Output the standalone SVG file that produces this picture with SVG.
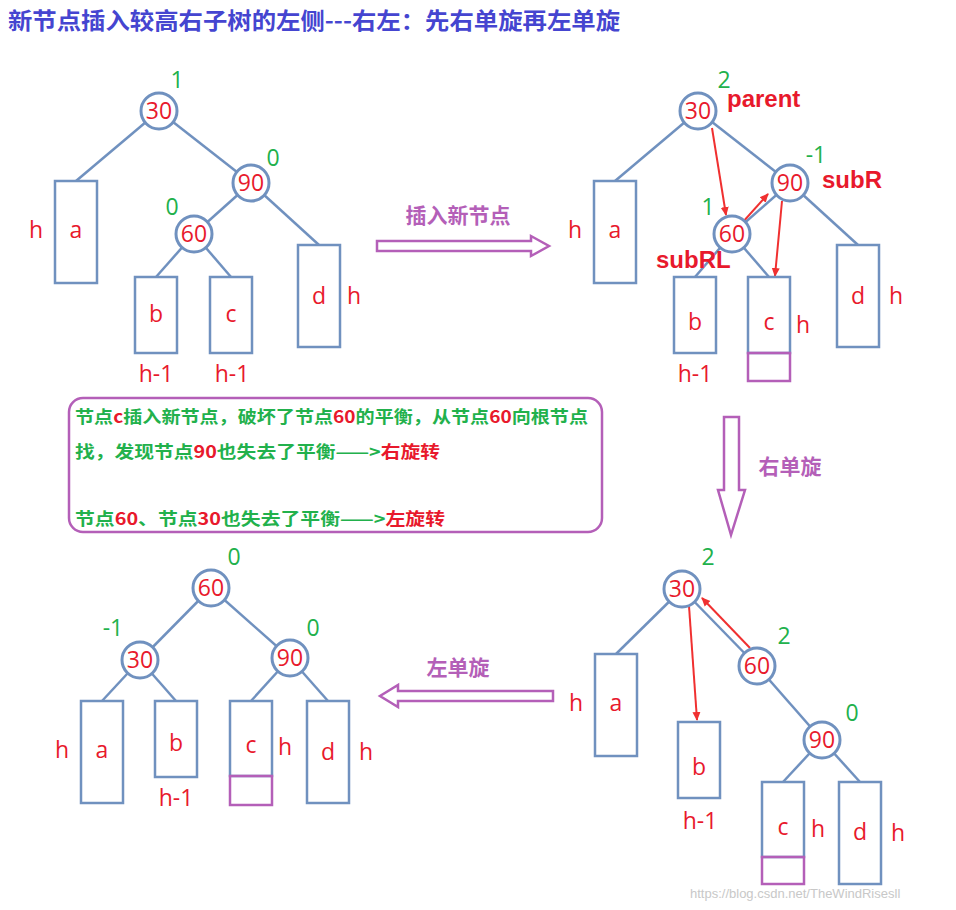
<svg xmlns="http://www.w3.org/2000/svg" width="956" height="910" viewBox="0 0 956 910">
<defs>
<style>
.n{fill:#fff;stroke:#7091bf;stroke-width:3}
.b{fill:none;stroke:#7091bf;stroke-width:2.5}
.p{fill:none;stroke:#b45fb8;stroke-width:2.5}
.e{stroke:#7091bf;stroke-width:2.5}
.t{font-family:"Open Sans","Noto Sans",sans-serif;fill:#e8192c;font-size:23px;text-anchor:middle}
.g{font-family:"Open Sans","Noto Sans",sans-serif;fill:#22b14c;font-size:23px;text-anchor:middle}
.lb{font-family:"Liberation Sans",sans-serif;font-weight:bold;fill:#e8192c;font-size:24px}
.cn{font-family:"Noto Sans CJK SC",sans-serif;font-weight:bold}
.ra{stroke:#f03030;stroke-width:2;fill:none;marker-end:url(#ah)}
</style>
<marker id="ah" markerWidth="10" markerHeight="10" refX="8" refY="5" orient="auto" markerUnits="userSpaceOnUse"><path d="M0,1 L9,5 L0,9 z" fill="#f03030"/></marker>
</defs>
<rect width="956" height="910" fill="#fff"/>
<text x="8" y="29" class="cn" font-size="23" fill="#4545d0" textLength="612" lengthAdjust="spacingAndGlyphs">新节点插入较高右子树的左侧---右左：先右单旋再左单旋</text>

<g id="connectors">
<line class="e" x1="159" y1="111" x2="76" y2="181"/><line class="e" x1="159" y1="111" x2="251" y2="183"/>
<line class="e" x1="251" y1="183" x2="194" y2="234"/><line class="e" x1="251" y1="183" x2="319" y2="245"/>
<line class="e" x1="194" y1="234" x2="156" y2="277"/><line class="e" x1="194" y1="234" x2="231" y2="277"/>
<line class="e" x1="698" y1="111" x2="615" y2="181"/><line class="e" x1="698" y1="111" x2="790" y2="183"/>
<line class="e" x1="790" y1="183" x2="732" y2="234"/><line class="e" x1="790" y1="183" x2="858" y2="245"/>
<line class="e" x1="732" y1="234" x2="695" y2="277"/><line class="e" x1="732" y1="234" x2="769" y2="277"/>
<line class="e" x1="682" y1="589" x2="616" y2="654"/><line class="e" x1="682" y1="589" x2="757" y2="666"/>
<line class="e" x1="757" y1="666" x2="822" y2="740"/>
<line class="e" x1="822" y1="740" x2="783" y2="782"/><line class="e" x1="822" y1="740" x2="860" y2="782"/>
<line class="e" x1="211" y1="588" x2="140" y2="660"/><line class="e" x1="211" y1="588" x2="290" y2="658"/>
<line class="e" x1="140" y1="660" x2="102" y2="701"/><line class="e" x1="140" y1="660" x2="176" y2="701"/>
<line class="e" x1="290" y1="658" x2="251" y2="701"/><line class="e" x1="290" y1="658" x2="328" y2="701"/>
<line class="ra" x1="712" y1="128" x2="726" y2="215"/>
<line class="ra" x1="742" y1="223" x2="768" y2="194"/>
<line class="ra" x1="782" y1="201" x2="775" y2="276"/>
<line class="ra" x1="689" y1="606" x2="697" y2="720"/>
<line class="ra" x1="750" y1="648" x2="702" y2="598"/>
<path d="M377,241 H531 V236 L549,246 L531,256 V251 H377 Z" fill="#fff" stroke="#b45fb8" stroke-width="2.5"/>
<path d="M553,691 H398 V685 L380,696 L398,707 V701 H553 Z" fill="#fff" stroke="#b45fb8" stroke-width="2.5"/>
<path d="M724,417 H739 V490 H745 L731,535 L718,490 H724 Z" fill="#fff" stroke="#b45fb8" stroke-width="2.5"/>
</g>

<g id="tree1">
<g id="t1n30"><circle class="n" cx="159" cy="111" r="18"/><text class="t" x="159" y="119">30</text><text class="g" x="177" y="88">1</text></g>
<g id="t1n90"><circle class="n" cx="251" cy="183" r="18"/><text class="t" x="251" y="191">90</text><text class="g" x="273" y="166">0</text></g>
<g id="t1n60"><circle class="n" cx="194" cy="234" r="18"/><text class="t" x="194" y="242">60</text><text class="g" x="172" y="215">0</text></g>
<g id="t1a"><rect class="b" x="55" y="181" width="42" height="102"/><text class="t" x="76" y="238">a</text><text class="t" x="36" y="238">h</text></g>
<g id="t1b"><rect class="b" x="135" y="277" width="42" height="76"/><text class="t" x="156" y="322">b</text><text class="t" x="156" y="382">h-1</text></g>
<g id="t1c"><rect class="b" x="210" y="277" width="42" height="76"/><text class="t" x="231" y="322">c</text><text class="t" x="232" y="382">h-1</text></g>
<g id="t1d"><rect class="b" x="298" y="245" width="42" height="102"/><text class="t" x="319" y="304">d</text><text class="t" x="354" y="304">h</text></g>
</g>
<text x="458" y="223" class="cn" font-size="21" fill="#b45fb8" text-anchor="middle">插入新节点</text>

<g id="tree2">
<g id="t2n30"><circle class="n" cx="698" cy="111" r="18"/><text class="t" x="698" y="119">30</text><text class="g" x="724" y="88">2</text><text class="lb" x="727" y="107">parent</text></g>
<g id="t2n90"><circle class="n" cx="790" cy="183" r="18"/><text class="t" x="790" y="191">90</text><text class="g" x="816" y="163">-1</text><text class="lb" x="822" y="188">subR</text></g>
<g id="t2n60"><circle class="n" cx="732" cy="234" r="18"/><text class="t" x="732" y="242">60</text><text class="g" x="708" y="215">1</text><text class="lb" x="656" y="268">subRL</text></g>
<g id="t2a"><rect class="b" x="594" y="181" width="42" height="102"/><text class="t" x="615" y="238">a</text><text class="t" x="575" y="238">h</text></g>
<g id="t2b"><rect class="b" x="674" y="277" width="42" height="76"/><text class="t" x="695" y="330">b</text><text class="t" x="695" y="382">h-1</text></g>
<g id="t2c"><rect class="b" x="748" y="277" width="42" height="76"/><rect class="p" x="748" y="353" width="42" height="28"/><text class="t" x="769" y="330">c</text><text class="t" x="803" y="333">h</text></g>
<g id="t2d"><rect class="b" x="837" y="245" width="42" height="102"/><text class="t" x="858" y="304">d</text><text class="t" x="896" y="304">h</text></g>
</g>

<g id="note">
<rect x="69" y="398" width="533" height="134" rx="14" fill="#fff" stroke="#b45fb8" stroke-width="2.5"/>
<text x="75" y="423" class="cn" font-size="17" fill="#22b14c" textLength="513" lengthAdjust="spacingAndGlyphs">节点<tspan fill="#e8192c">c</tspan>插入新节点，破坏了节点<tspan fill="#e8192c">60</tspan>的平衡，从节点<tspan fill="#e8192c">60</tspan>向根节点</text>
<text x="75" y="458" class="cn" font-size="17" fill="#22b14c" textLength="365" lengthAdjust="spacingAndGlyphs">找，发现节点<tspan fill="#e8192c">90</tspan>也失去了平衡——&gt;<tspan fill="#e8192c">右旋转</tspan></text>
<text x="75" y="525" class="cn" font-size="17" fill="#22b14c" textLength="370" lengthAdjust="spacingAndGlyphs">节点<tspan fill="#e8192c">60</tspan>、节点<tspan fill="#e8192c">30</tspan>也失去了平衡——&gt;<tspan fill="#e8192c">左旋转</tspan></text>
</g>
<text x="790" y="474" class="cn" font-size="21" fill="#b45fb8" text-anchor="middle">右单旋</text>

<g id="tree3">
<g id="t3n30"><circle class="n" cx="682" cy="589" r="18"/><text class="t" x="682" y="597">30</text><text class="g" x="708" y="565">2</text></g>
<g id="t3n60"><circle class="n" cx="757" cy="666" r="18"/><text class="t" x="757" y="674">60</text><text class="g" x="784" y="644">2</text></g>
<g id="t3n90"><circle class="n" cx="822" cy="740" r="18"/><text class="t" x="822" y="748">90</text><text class="g" x="852" y="721">0</text></g>
<g id="t3a"><rect class="b" x="595" y="654" width="42" height="102"/><text class="t" x="616" y="711">a</text><text class="t" x="576" y="711">h</text></g>
<g id="t3b"><rect class="b" x="678" y="722" width="42" height="76"/><text class="t" x="699" y="775">b</text><text class="t" x="700" y="829">h-1</text></g>
<g id="t3c"><rect class="b" x="762" y="782" width="42" height="75"/><rect class="p" x="762" y="857" width="42" height="27"/><text class="t" x="783" y="835">c</text><text class="t" x="818" y="837">h</text></g>
<g id="t3d"><rect class="b" x="839" y="782" width="42" height="102"/><text class="t" x="860" y="840">d</text><text class="t" x="898" y="841">h</text></g>
</g>
<text x="458" y="675" class="cn" font-size="21" fill="#b45fb8" text-anchor="middle">左单旋</text>

<g id="tree4">
<g id="t4n60"><circle class="n" cx="211" cy="588" r="18"/><text class="t" x="211" y="596">60</text><text class="g" x="234" y="565">0</text></g>
<g id="t4n30"><circle class="n" cx="140" cy="660" r="18"/><text class="t" x="140" y="668">30</text><text class="g" x="113" y="636">-1</text></g>
<g id="t4n90"><circle class="n" cx="290" cy="658" r="18"/><text class="t" x="290" y="666">90</text><text class="g" x="313" y="636">0</text></g>
<g id="t4a"><rect class="b" x="81" y="701" width="42" height="102"/><text class="t" x="102" y="758">a</text><text class="t" x="62" y="758">h</text></g>
<g id="t4b"><rect class="b" x="155" y="701" width="42" height="76"/><text class="t" x="176" y="751">b</text><text class="t" x="176" y="806">h-1</text></g>
<g id="t4c"><rect class="b" x="230" y="701" width="42" height="75"/><rect class="p" x="230" y="776" width="42" height="29"/><text class="t" x="251" y="753">c</text><text class="t" x="285" y="755">h</text></g>
<g id="t4d"><rect class="b" x="307" y="701" width="42" height="102"/><text class="t" x="328" y="760">d</text><text class="t" x="366" y="760">h</text></g>
</g>
<text x="690" y="898" font-family="Liberation Sans,sans-serif" font-size="13" fill="#c8c8c8">https://blog.csdn.net/TheWindRisesll</text>
</svg>
